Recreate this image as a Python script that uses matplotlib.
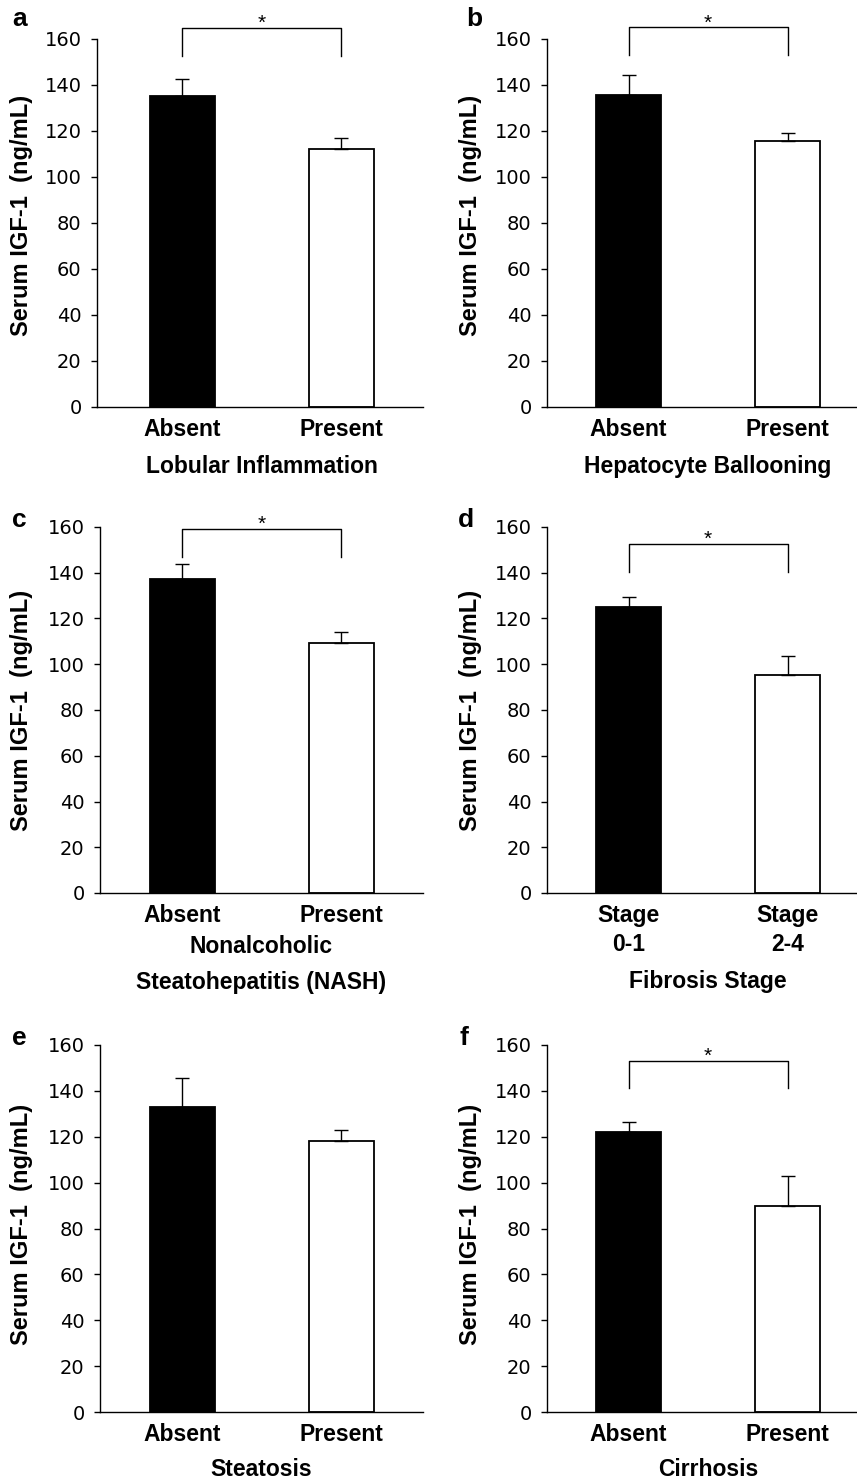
import matplotlib.pyplot as plt
import numpy as np

# === Data ===
panel_letters = ['a', 'b', 'c', 'd', 'e', 'f']
group_labels = [
    ['Absent', 'Present'],
    ['Absent', 'Present'],
    ['Absent', 'Present'],
    ['Stage\n0-1', 'Stage\n2-4'],
    ['Absent', 'Present'],
    ['Absent', 'Present'],
]
xlabel_lines = [
    ['Lobular Inflammation'],
    ['Hepatocyte Ballooning'],
    ['Nonalcoholic', 'Steatohepatitis (NASH)'],
    ['Fibrosis Stage'],
    ['Steatosis'],
    ['Cirrhosis'],
]
mean_absent = [135.4, 135.5, 137.1, 125.1, 132.9, 122.1]
mean_present = [112.3, 115.5, 109.3, 95.3, 118.3, 89.8]
err_absent = [7.2, 8.8, 6.6, 4.3, 12.9, 4.5]
err_present = [4.8, 3.8, 4.7, 8.3, 4.8, 13.1]
significant = [True, True, True, True, False, True]
# bracket: top line value, leg end value
bracket_top = [164.8, 165.0, 159.1, 152.6, None, 153.1]
bracket_leg = [152.6, 153.0, 146.8, 140.5, None, 141.1]

yticks = [0, 20, 40, 60, 80, 100, 120, 140, 160]

# === Layout in pixels ===
W, H = 857, 1481
# (spine x, right x, zero y, top y)
rects = [
    (97, 423, 407, 39),
    (547, 857, 407, 39),
    (100, 423, 893, 527),
    (547, 857, 893, 527),
    (100, 423, 1412, 1045),
    (547, 857, 1412, 1045),
]
# bar centers (px) for each column
centers_px = {0: (182, 341), 1: (628.5, 787.5)}
bar_w_px = 65
xlab_offsets = [[66], [66], [60, 96], [95], [64], [64]]
ylab_x_px = [22, 471, 22, 471, 22, 471]
ylab_y = [0.52, 0.52, 0.5, 0.5, 0.51, 0.51]
letter_pos = [(12, 26), (466, 26), (12, 527), (458, 527), (12, 1045), (460, 1045)]

label_font = 'Liberation Sans'
tick_font = 'DejaVu Sans'
PX = 72.0 / 100  # points per pixel
lab_size = 16.5

fig = plt.figure(figsize=(W / 100, H / 100), dpi=100)

for i in range(6):
    x0, x1, y0, y1 = rects[i]
    col = i % 2
    c0, c1 = centers_px[col]
    unit = c1 - c0
    ax = fig.add_axes([x0 / W, 1 - y0 / H, (x1 - x0) / W, (y0 - y1) / H])
    ax.set_xlim((x0 - c0) / unit, (x1 - c0) / unit)
    ax.set_ylim(0, 160)

    xs = np.array([0, 1])
    heights = [mean_absent[i], mean_present[i]]
    ax.bar(xs, heights, width=bar_w_px / unit, color=['black', 'white'],
           edgecolor='black', linewidth=1.3, zorder=2)
    ax.errorbar(xs, heights, yerr=[[0, 0], [err_absent[i], err_present[i]]],
                fmt='none', ecolor='black', elinewidth=1.0, capsize=5,
                capthick=1.0, zorder=3)

    for s in ['top', 'right']:
        ax.spines[s].set_visible(False)
    for s in ['left', 'bottom']:
        ax.spines[s].set_linewidth(1.0)

    ax.set_yticks(yticks)
    ax.set_yticklabels([str(v) for v in yticks], fontfamily=tick_font, fontsize=14)
    ax.tick_params(axis='y', length=4, width=1.0, pad=7)
    ax.set_xticks(xs)
    ax.set_xticklabels(group_labels[i], fontfamily=label_font, fontweight='bold',
                       fontsize=lab_size, linespacing=1.35)
    ax.tick_params(axis='x', length=0, pad=8)

    ax.set_ylabel('Serum IGF-1  (ng/mL)', fontfamily=label_font, fontweight='bold',
                  fontsize=17, va='center')
    ax.yaxis.set_label_coords((ylab_x_px[i] - x0) / (x1 - x0), ylab_y[i])

    for line, off in zip(xlabel_lines[i], xlab_offsets[i]):
        ax.annotate(line, xy=(0.5, 0), xycoords=('data', 'axes fraction'),
                    xytext=(0, -off * PX), textcoords='offset points',
                    ha='center', va='baseline', fontfamily=label_font,
                    fontweight='bold', fontsize=lab_size, annotation_clip=False)

    if significant[i]:
        top, leg = bracket_top[i], bracket_leg[i]
        ax.plot([0, 0, 1, 1], [leg, top, top, leg], color='black', lw=1.0,
                clip_on=False, zorder=4)
        ax.annotate('*', xy=(0.5, top), xytext=(0, -3.5), textcoords='offset points',
                    ha='center', va='bottom', fontfamily=label_font, fontsize=15,
                    annotation_clip=False)

    lx, ly = letter_pos[i]
    fig.text(lx / W, 1 - ly / H, panel_letters[i], fontfamily=label_font,
             fontweight='bold', fontsize=19, ha='left', va='baseline')

fig.savefig('out.png', dpi=100)
